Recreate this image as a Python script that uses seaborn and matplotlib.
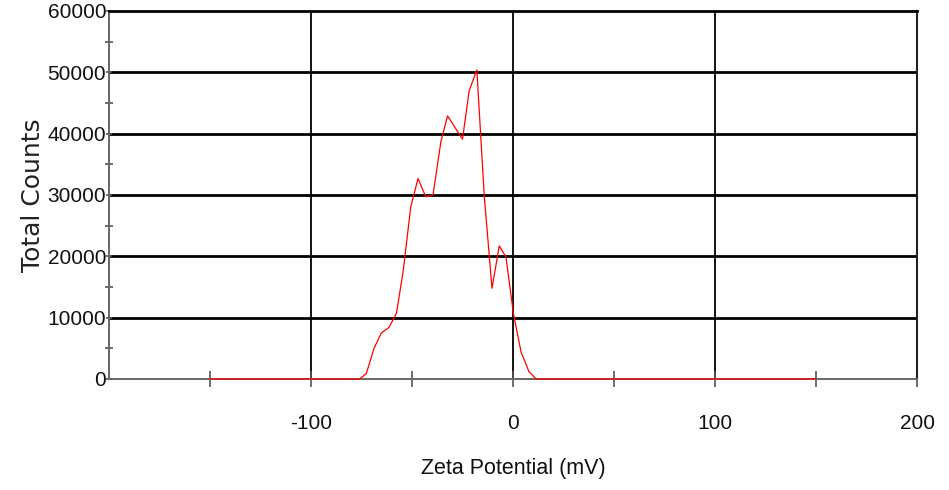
import matplotlib
matplotlib.use("Agg")
import matplotlib.pyplot as plt
from matplotlib.ticker import MultipleLocator, FixedLocator
import seaborn as sns
import pandas as pd

# ---- data ----
zeta_mv = [-150, -75.9, -72.6, -68.8, -65.2, -61.4, -57.7, -54.4, -50.6, -47.0,
           -43.2, -39.6, -35.7, -32.4, -25.0, -21.7, -17.9, -14.2, -10.4, -6.8,
           -3.5, 0.2, 4.0, 7.9, 11.4, 150]
total_counts = [0, 0, 900, 5000, 7500, 8400, 10700, 17500, 28100, 32700,
                29700, 30000, 38700, 42900, 39100, 47000, 50400, 29700, 14800, 21700,
                19900, 10700, 4400, 1200, 0, 0]
x_major = [-100, 0, 100, 200]
x_minor = [-150, -50, 50, 150]
y_major = [0, 10000, 20000, 30000, 40000, 50000, 60000]
x_title = "Zeta Potential (mV)"
y_title = "Total Counts"

sns.set_style("white")
plt.rcParams["font.family"] = ["Liberation Sans", "DejaVu Sans"]

df = pd.DataFrame({"zeta": zeta_mv, "counts": total_counts})

fig = plt.figure(figsize=(9.49, 4.90), dpi=100)
ax = fig.add_axes([109 / 949, 1 - 379 / 490, 808 / 949, 368 / 490])

sns.lineplot(data=df, x="zeta", y="counts", color="#ff0000", linewidth=0.9,
             ax=ax, sort=False, estimator=None)
for ln in ax.lines:
    ln.set_clip_on(False)
    ln.set_zorder(4)

ax.set_xlim(-200, 200)
ax.set_ylim(0, 60000)

# grid lines at the major tick values
for yv in y_major[1:-1]:
    ax.axhline(yv, color="black", linewidth=2.0, zorder=0.5)
for xv in x_major[:-1]:
    ax.axvline(xv, color="black", linewidth=1.3, zorder=0.5)

ax.xaxis.set_major_locator(FixedLocator(x_major))
ax.xaxis.set_minor_locator(FixedLocator(x_minor))
ax.yaxis.set_major_locator(FixedLocator(y_major))
ax.yaxis.set_minor_locator(MultipleLocator(5000))
ax.set_xticklabels([str(v) for v in x_major])
ax.set_yticklabels([str(v) for v in y_major])

ax.tick_params(axis="x", which="both", bottom=True, direction="inout", length=12,
               width=1.2, color="#555555", labelsize=15, pad=19, labelcolor="#111111")
ax.tick_params(axis="y", which="major", left=True, direction="inout", length=4,
               width=1.2, color="#555555", labelsize=15, pad=0, labelcolor="#111111")
ax.tick_params(axis="y", which="minor", left=True, direction="inout", length=6,
               width=1.2, color="#555555")

for side in ["left", "bottom"]:
    ax.spines[side].set_color("#666666")
    ax.spines[side].set_linewidth(1.4)
ax.spines["top"].set_color("black")
ax.spines["top"].set_linewidth(2.0)
ax.spines["right"].set_color("#222222")
ax.spines["right"].set_linewidth(1.5)

ax.set_xlabel(x_title, fontsize=15.5, color="#111111")
ax.xaxis.set_label_coords(0.5, -0.215)
ax.set_ylabel(y_title, fontsize=18, family=["DejaVu Sans"], color="#222222")
ax.yaxis.set_label_coords(-0.094, 0.5)
ax.yaxis.label.set_va("center")

fig.savefig("out.png", dpi=100)
